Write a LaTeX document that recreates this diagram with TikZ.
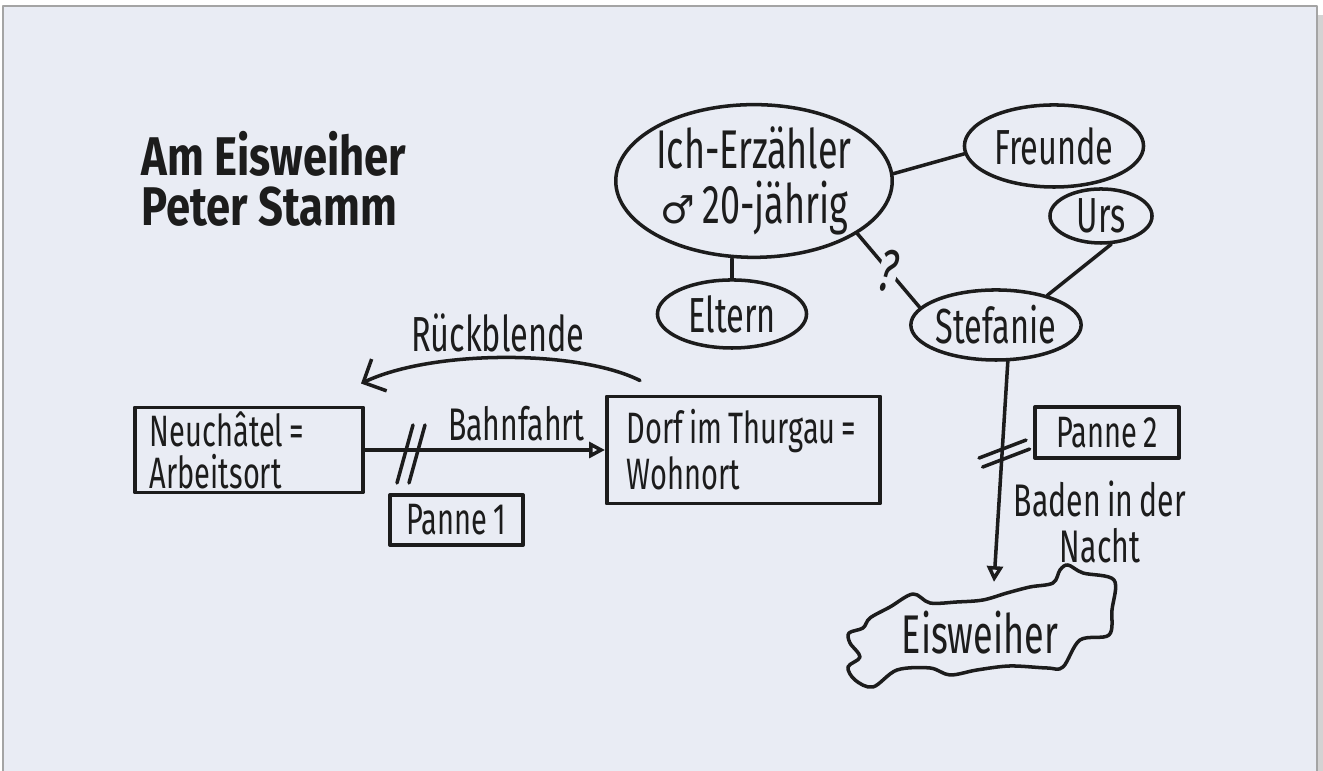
\documentclass[tikz,border=0pt]{standalone}
\usepackage{fontspec}
\setmainfont{Fira Sans}
\newfontfamily\hand{Fira Sans}[FakeStretch=0.66,WordSpace=0.8]
\newfontfamily\handfett{Fira Sans}[FakeStretch=0.8]
\newfontfamily\symb{DejaVu Sans}
\usepackage{tikz}
\usetikzlibrary{arrows.meta,shapes.geometric,positioning}

\definecolor{papier}{HTML}{E9ECF4}
\definecolor{rahmen}{HTML}{A4A4A4}
\definecolor{schatten}{HTML}{D3D3D3}
\definecolor{tinte}{HTML}{1C1C1C}

\tikzset{
  strich/.style={draw=tinte, line width=1pt},
  blase/.style={strich, ellipse, inner sep=0pt, text=tinte, font=\hand\fontsize{14}{15}\selectfont},
  kasten/.style={strich, rectangle, line width=1.1pt, inner xsep=0.15cm, inner ysep=0pt,
    align=flush left, text=tinte, font=\hand\fontsize{12.5}{12}\selectfont},
  notiz/.style={inner sep=1pt, text=tinte, font=\hand\fontsize{13}{13}\selectfont},
  offen/.style={-{Triangle[open,length=4.5pt,width=4.5pt]}},
}

\begin{document}
\begin{tikzpicture}[x=0.01cm, y=-0.01cm, line cap=round, line join=round]
\useasboundingbox (0,0) rectangle (1323,771);

% --- BLATT ---
\fill[white] (0,0) rectangle (1323,771);
\fill[schatten] (1317,15) rectangle (1323,771);
\fill[papier] (3,6) rectangle (1317,771);
\draw[rahmen, line width=0.6pt] (3,771) -- (3,6) -- (1317,6) -- (1317,771);

% --- TITEL ---
\node[anchor=north west, inner sep=0pt, align=left, text=tinte,
  font=\handfett\bfseries\fontsize{15.5}{14}\selectfont] (titel) at (141,131)
  {Am Eisweiher\\Peter Stamm};

% --- FIGUREN ---
\node[blase, minimum width=2.58cm, minimum height=1.31cm, align=center,
  font=\hand\fontsize{15.5}{15.5}\selectfont] (ich) at (754,181)
  {Ich-Erzähler\\{\symb\fontsize{11}{11}\selectfont ♂} 20-jährig};
\node[blase, minimum width=1.79cm, minimum height=0.82cm] (freunde) at (1054,146) {Freunde};
\node[blase, minimum width=1.02cm, minimum height=0.54cm] (urs) at (1101,216) {Urs};
\node[blase, minimum width=1.49cm, minimum height=0.68cm] (eltern) at (732,314) {Eltern};
\node[blase, minimum width=1.68cm, minimum height=0.70cm] (stef) at (996,325) {Stefanie};

\draw[strich] (ich.3) -- (freunde.185);
\draw[strich] (eltern.north) -- (eltern.north |- ich.south);
\draw[strich] (stef.30) -- (urs.-70);
\draw[strich] (ich.-27) -- node[fill=papier, inner sep=0pt, rotate=-15, text=tinte,
  font=\hand\fontsize{17}{17}\selectfont] (frage) {?} (stef.167);

% --- ORTE ---
\node[kasten, minimum width=2.28cm, minimum height=0.85cm, text width=1.98cm] (neu) at (249,450)
  {Neuchâtel =\\Arbeitsort};
\node[kasten, minimum width=2.73cm, minimum height=1.07cm, inner xsep=0.2cm, text width=2.33cm] (dorf) at (743.5,450)
  {Dorf im Thurgau =\\Wohnort};
\node[kasten, minimum width=1.33cm, minimum height=0.50cm] (panne1) at (456.5,520) {Panne 1};
\node[kasten, minimum width=1.44cm, minimum height=0.51cm] (panne2) at (1107,432.5) {Panne 2};

\draw[strich, offen] (neu.east) -- node[notiz, above=1pt, pos=0.63] (fahrt) {Bahnfahrt} (dorf.west);
\draw[strich, -{Straight Barb[length=5pt,width=10pt]}]
  ([shift={(35,-14)}]dorf.north west) .. controls +(-62,-31) and +(72,-34) ..
  node[notiz, above=0pt, pos=0.52, font=\hand\fontsize{14}{14}\selectfont] (rueck) {Rückblende}
  ([shift={(-4,-22)}]neu.north east);

% Unterbrechung der Bahnfahrt
\path (neu.east) -- (dorf.west) coordinate[pos=0.2] (knick1);
\foreach \d in {0,12} {
  \draw[strich] (knick1) ++(\d-16,33) -- ++(16,-58);
}

% --- EISWEIHER ---
\node[text=tinte, font=\hand\fontsize{15.5}{16}\selectfont] (eis) at (980,633) {Eisweiher};
\draw[strich] plot[smooth cycle, tension=0.55] coordinates {
  (1114,580) (1112,610) (1109,635) (1080,640) (1063,667) (1047,668) (1010,666)
  (977,670) (950,675) (930,668) (897,670) (873,687) (855,680) (848,667)
  (860,657) (850,643) (849,633) (863,628) (870,618) (890,607) (913,594)
  (930,603) (957,602) (983,600) (1007,593) (1030,587) (1053,583) (1060,570)
  (1068,565) (1083,573)};
\coordinate (eisin) at (994,582);

\draw[strich, offen] (stef.-72) -- (eisin);
\node[notiz, align=center, font=\hand\fontsize{13}{13}\selectfont] (baden) at (1100,522)
  {Baden in der\\Nacht};

% Unterbrechung vor dem Baden
\path (stef.-72) -- (eisin) coordinate[pos=0.42] (knick2);
\foreach \d in {0,9} {
  \draw[strich] (knick2) ++(-23+0.4*\d,4+\d) -- ++(47,-18);
}

\end{tikzpicture}
\end{document}
